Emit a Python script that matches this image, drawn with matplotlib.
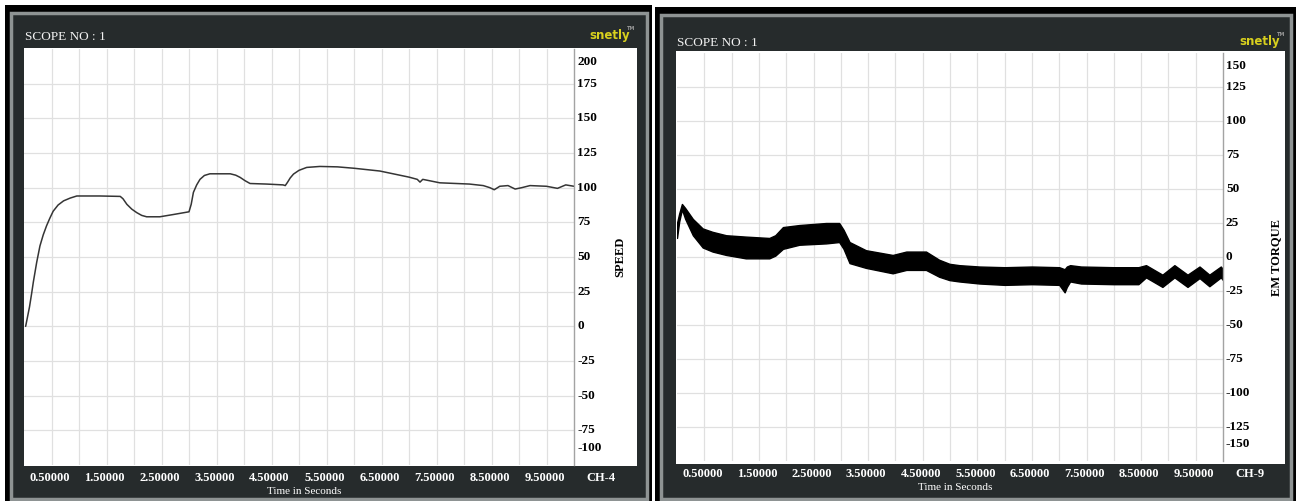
import numpy as np
import matplotlib
matplotlib.use("Agg")
import matplotlib.pyplot as plt
from matplotlib.patches import Rectangle
from matplotlib.transforms import offset_copy

plt.rcParams["font.family"] = ["Liberation Serif", "DejaVu Serif"]

# ---------------- data ----------------
# Scope channel CH-4 : rotor speed
speed_t = [0.03, 0.07, 0.10, 0.14, 0.17, 0.23, 0.29, 0.35, 0.41, 0.47, 0.53, 0.62,
           0.72, 0.84, 0.96, 1.38, 1.75, 1.80, 1.87, 1.96, 2.05, 2.14, 2.23, 2.47,
           2.71, 3.00, 3.04, 3.08, 3.14, 3.20, 3.28, 3.38, 3.75, 3.85, 3.93, 4.02,
           4.11, 4.41, 4.71, 4.75, 4.79, 4.84, 4.90, 5.00, 5.14, 5.38, 5.70, 6.00,
           6.47, 7.00, 7.15, 7.20, 7.25, 7.56, 8.10, 8.35, 8.47, 8.55, 8.65, 8.80,
           8.93, 9.05, 9.20, 9.50, 9.70, 9.85, 10.0]
speed_v = [0, 8, 14, 24, 32, 46, 58, 66, 72.5, 78, 83, 87.5,
           90.5, 92.5, 94, 94, 93.7, 92, 88, 84.5, 82, 80, 79, 79,
           80.6, 82.6, 88, 96.6, 102, 106, 108.8, 110, 110, 109, 107.4, 105,
           103, 102.6, 102, 101.5, 103.8, 107, 109.8, 112.5, 114.6, 115.3, 115, 114,
           112, 107.6, 106, 104, 106, 103.5, 102.6, 101.5, 100, 98.5, 101, 101.5,
           99, 100, 101.5, 101, 99.5, 102, 101]

# Scope channel CH-9 : electromagnetic torque (ripple envelope)
torque_t = [0.00, 0.04, 0.09, 0.15, 0.29, 0.47, 0.65, 0.90, 1.26, 1.69, 1.80, 1.94,
            2.24, 2.73, 2.97, 3.05, 3.16, 3.46, 3.95, 4.20, 4.56, 4.80, 4.99, 5.17,
            5.54, 6.00, 6.50, 7.00, 7.10, 7.14, 7.20, 7.40, 8.00, 8.45, 8.59, 8.89,
            9.11, 9.35, 9.57, 9.75, 9.96, 10.0]
torque_hi = [25, 32, 39, 36, 28, 21, 18.5, 16, 15, 14, 16, 22,
             23.5, 25, 25, 20, 11, 5, 1.5, 4, 4, -2, -5, -6,
             -7, -7.5, -7, -7.5, -9, -7, -6, -7, -7.5, -7.5, -6, -13,
             -6, -13, -7, -13, -7, -9]
torque_lo = [14, 26, 35, 28, 16, 7, 4, 1.5, -1, -1, 1, 6,
             9, 10, 11, 6, -4.5, -8, -12, -9.5, -9.5, -14.5, -17, -18,
             -19.5, -20.5, -20, -20.5, -26, -22, -18, -19.5, -20, -20, -15, -22,
             -15, -22, -15.5, -21.5, -15, -17]

time_ticks = [0.5, 1.5, 2.5, 3.5, 4.5, 5.5, 6.5, 7.5, 8.5, 9.5]
time_labels = ["0.50000", "1.50000", "2.50000", "3.50000", "4.50000",
               "5.50000", "6.50000", "7.50000", "8.50000", "9.50000"]
speed_ticks = [200, 175, 150, 125, 100, 75, 50, 25, 0, -25, -50, -75, -100]
torque_ticks = [150, 125, 100, 75, 50, 25, 0, -25, -50, -75, -100, -125, -150]

# ---------------- layout helpers (pixel units) ----------------
W, H = 1296, 501
fig = plt.figure(figsize=(W / 100, H / 100), dpi=100)
fig.patch.set_facecolor("white")

FRAME = "#262b2c"
BORDER = "#8e9393"
GRID = "#e0e0e0"


def rect(x0, y0, x1, y1, **kw):
    r = Rectangle((x0 / W, 1 - y1 / H), (x1 - x0) / W, (y1 - y0) / H,
                  transform=fig.transFigure, **kw)
    fig.add_artist(r)
    return r


def ftext(x, y, s, **kw):
    fig.text(x / W, 1 - y / H, s, **kw)


def panel(box, border, white, axbox, title_y, logo_x):
    rect(*box, facecolor="black", edgecolor="none", zorder=-10)
    rect(*border, facecolor=FRAME, edgecolor=BORDER, lw=2.5, zorder=-9)
    rect(*white, facecolor="white", edgecolor="none", zorder=-8)
    ftext(white[0] + 1, title_y, "SCOPE NO : 1", color="#f2f2f2",
          fontsize=9.5, va="center", ha="left")
    ftext(logo_x, title_y - 1, "snetly", color="#d8d01e", fontsize=8.5,
          fontweight="bold", family="DejaVu Sans", va="center", ha="left")
    ftext(logo_x + 38, title_y - 9, "TM", color="#9a9a9a", fontsize=3.5,
          fontweight="bold", family="DejaVu Sans", va="center", ha="left")
    x0, y0, x1, y1 = axbox
    ax = fig.add_axes([x0 / W, 1 - y1 / H, (x1 - x0) / W, (y1 - y0) / H])
    ax.set_facecolor("white")
    for side in ("left", "top", "bottom"):
        ax.spines[side].set_visible(False)
    ax.spines["right"].set_color("#a3a3a3")
    ax.spines["right"].set_linewidth(1.0)
    ax.set_xlim(0, 10)
    ax.set_xticks(np.arange(0.5, 10, 0.5))
    ax.tick_params(length=0, labelbottom=False, labelleft=False)
    ax.grid(True, color=GRID, lw=0.9)
    ax.set_axisbelow(True)
    return ax


def label_axes(ax, yticks, ch, ylabel, ylabel_x):
    ax.set_yticks(yticks[1:-1])
    ytr = offset_copy(ax.get_yaxis_transform(), fig=fig, x=3, y=0, units="dots")
    fs = 9.5
    for i, v in enumerate(yticks):
        if i == 0:
            ax.text(1.0, v, str(v), transform=offset_copy(ytr, fig=fig, y=-7, units="dots"),
                    va="top", ha="left", fontsize=fs, fontweight="bold", clip_on=False)
        elif i == len(yticks) - 1:
            ax.text(1.0, v, str(v), transform=offset_copy(ytr, fig=fig, y=11, units="dots"),
                    va="bottom", ha="left", fontsize=fs, fontweight="bold", clip_on=False)
        else:
            ax.text(1.0, v, str(v), transform=ytr, va="center", ha="left",
                    fontsize=fs, fontweight="bold", clip_on=False)
    xtr = offset_copy(ax.get_xaxis_transform(), fig=fig, x=-2, y=-13, units="dots")
    for t, s in zip(time_ticks, time_labels):
        ax.text(t, 0, s, transform=xtr, ha="center", va="center", color="white",
                fontsize=9, fontweight="bold", clip_on=False)
    ax.text(1.0, 0, ch, transform=offset_copy(ax.transAxes, fig=fig, x=27, y=-13, units="dots"),
            ha="center", va="center", color="white", fontsize=9,
            fontweight="bold", clip_on=False)
    ax.text(0.51, 0, "Time in Seconds",
            transform=offset_copy(ax.transAxes, fig=fig, x=0, y=-26, units="dots"),
            ha="center", va="center", color="white", fontsize=8, clip_on=False)
    ax.text(1.0, 0.5, ylabel,
            transform=offset_copy(ax.transAxes, fig=fig, x=ylabel_x, y=0, units="dots"),
            rotation=90, ha="center", va="center", fontsize=9,
            fontweight="bold", clip_on=False)


# ---------------- left scope: SPEED ----------------
axL = panel(box=(5, 5, 652, 501), border=(11, 13, 647, 499),
            white=(24, 48, 637, 466), axbox=(24, 49, 574, 465),
            title_y=37, logo_x=589)
axL.set_ylim(-100, 200)
axL.plot(speed_t, speed_v, color="#353535", lw=1.1, solid_capstyle="round")
label_axes(axL, speed_ticks, "CH-4", "SPEED", 46)

# ---------------- right scope: EM TORQUE ----------------
axR = panel(box=(655, 7, 1296, 501), border=(661, 15, 1291, 499),
            white=(676, 51, 1285, 464), axbox=(677, 53, 1223, 461),
            title_y=43, logo_x=1239)
axR.set_ylim(-150, 150)
axR.fill_between(torque_t, torque_lo, torque_hi, facecolor="black",
                 edgecolor="black", lw=1.0)
label_axes(axR, torque_ticks, "CH-9", "EM TORQUE", 53)

fig.savefig("out.png", dpi=100)
